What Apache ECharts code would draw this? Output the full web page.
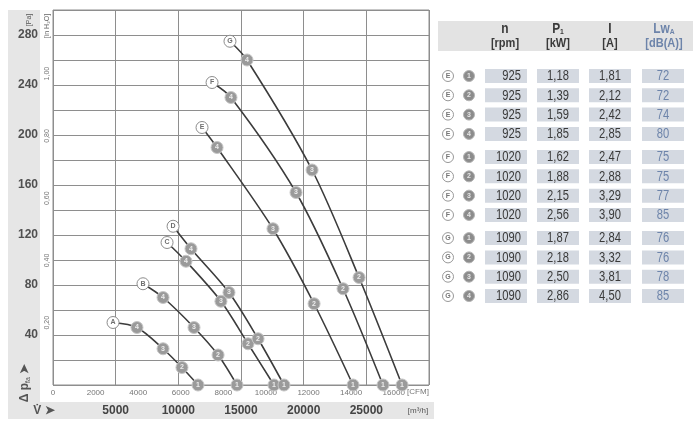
<!DOCTYPE html>
<html><head><meta charset="utf-8">
<script src="https://cdn.jsdelivr.net/npm/echarts@6/dist/echarts.min.js"></script>
<style>html,body{margin:0;padding:0;background:#fff}#c{width:700px;height:425px}</style>
</head><body><div id="c"></div>
<script>
// ---------- Chart data (flow in m3/h, pressure in Pa) ----------
const curveLetters = ['A','B','C','D','E','F','G'];
const pointLabels = ['4','3','2','1'];
const flowA = [4790, 6700, 8780, 10290, 11570];   const pressA = [50, 46, 29, 14, 0];
const flowB = [7180, 8780, 11250, 13170, 14680];  const pressB = [81, 70, 46, 24, 0];
const flowC = [9100, 10610, 13400, 15560, 17630]; const pressC = [114, 99, 67, 33, 0];
const flowD = [9580, 11010, 14040, 16360, 18430]; const pressD = [127, 109, 74, 37, 0];
const flowE = [11890, 13090, 17550, 20830, 23940]; const pressE = [206, 190, 125, 65, 0];
const flowF = [12690, 14200, 19390, 23140, 26330]; const pressF = [242, 230, 154, 77, 0];
const flowG = [14120, 15480, 20670, 24420, 27850]; const pressG = [275, 260, 172, 86, 0];
const flows = [flowA, flowB, flowC, flowD, flowE, flowF, flowG];
const presses = [pressA, pressB, pressC, pressD, pressE, pressF, pressG];

// axis tick settings
const flowTicksM3h = [5000, 10000, 15000, 20000, 25000];
const flowTicksCFM = [0, 2000, 4000, 6000, 8000, 10000, 12000, 14000, 16000];
const pressTicksPa = [40, 80, 120, 160, 200, 240, 280];
const pressTicksInH2O = [0.2, 0.4, 0.6, 0.8, 1.0];

// ---------- Table data ----------
const tableGroup = ['E','E','E','E','F','F','F','F','G','G','G','G'];
const tablePoint = ['1','2','3','4','1','2','3','4','1','2','3','4'];
const rpm = [925, 925, 925, 925, 1020, 1020, 1020, 1020, 1090, 1090, 1090, 1090];
const powerKW = [1.18, 1.39, 1.59, 1.85, 1.62, 1.88, 2.15, 2.56, 1.87, 2.18, 2.50, 2.86];
const currentA = [1.81, 2.12, 2.42, 2.85, 2.47, 2.88, 3.29, 3.90, 2.84, 3.32, 3.81, 4.50];
const soundLwA = [72, 72, 74, 80, 75, 75, 77, 85, 76, 76, 78, 85];

// ---------- Build ----------
const FONT = "'Liberation Sans Narrow','Liberation Sans',Arial,sans-serif";
const NARROW = 0.8;
const M3H_MAX = 30000, CFM_PER_M3H = 1 / 1.699;
const PA_MAX = 300, PA_PER_INH2O = 249.089;
const comma = (v, d) => v.toFixed(d).replace('.', ',');
const near = (arr, v, eps) => arr.some(t => Math.abs(t - v) < eps);

const curveSeries = curveLetters.map((letter, ci) => ({
  type: 'line', xAxisIndex: 0, yAxisIndex: 0, smooth: 0.3,
  symbol: 'circle', symbolSize: 12, showAllSymbol: true, z: 3,
  lineStyle: { color: '#3c3c3c', width: 1.6 },
  data: flows[ci].map((f, i) => ({
    value: [f, presses[ci][i]],
    itemStyle: i === 0
      ? { color: '#ffffff', borderColor: '#8c8c8c', borderWidth: 1 }
      : { color: '#9a9a9a', borderColor: '#c6c6c6', borderWidth: 1 },
    label: {
      show: true, position: 'inside',
      formatter: i === 0 ? letter : pointLabels[i - 1],
      color: i === 0 ? '#6e6e6e' : '#ececec',
      fontSize: 7, fontWeight: 'bold', fontFamily: FONT
    }
  }))
}));

// table layout (pixel columns inside table grid)
const COLX = { grp: 10, pt: 31, n: 68, p: 120, i: 172, lw: 225 };
const CELL_W = 42, CELL_H = 14;
const tableData = rpm.map((_, i) => [i + 0.2 * Math.floor(i / 4), i]);

function narrowText(x, y, txt, fill, size, align, weight) {
  return { type: 'text', x: x, y: y, scaleX: NARROW,
    style: { x: 0, y: 0, text: txt, fill: fill, fontSize: size, fontWeight: weight || 'normal',
      fontFamily: FONT, align: align, verticalAlign: 'middle' } };
}

function renderRow(params, api) {
  const pos = api.value(0), i = api.value(1);
  const cy = api.coord([0, pos])[1];
  const X = c => api.coord([c, pos])[0];
  const kids = [];
  kids.push({ type: 'circle', shape: { cx: X(COLX.grp), cy, r: 5.5 },
    style: { fill: '#fff', stroke: '#999', lineWidth: 1 } });
  kids.push({ type: 'text', style: { x: X(COLX.grp), y: cy, text: tableGroup[i], fill: '#777',
    fontSize: 7, fontWeight: 'bold', fontFamily: FONT, align: 'center', verticalAlign: 'middle' } });
  kids.push({ type: 'circle', shape: { cx: X(COLX.pt), cy, r: 5.5 },
    style: { fill: '#8c8c8c', stroke: '#b4b4b4', lineWidth: 1 } });
  kids.push({ type: 'text', style: { x: X(COLX.pt), y: cy, text: tablePoint[i], fill: '#e6e6e6',
    fontSize: 7, fontWeight: 'bold', fontFamily: FONT, align: 'center', verticalAlign: 'middle' } });
  const cells = [
    [COLX.n, String(rpm[i]), '#3a3a3a', 'right'],
    [COLX.p, comma(powerKW[i], 2), '#3a3a3a', 'center'],
    [COLX.i, comma(currentA[i], 2), '#3a3a3a', 'center'],
    [COLX.lw, String(soundLwA[i]), '#6d84aa', 'center']
  ];
  cells.forEach(([cx, txt, col, al]) => {
    const x0 = X(cx - CELL_W / 2);
    kids.push({ type: 'rect', shape: { x: x0, y: cy - CELL_H / 2, width: CELL_W, height: CELL_H },
      style: { fill: '#d4d9e1' } });
    kids.push(narrowText(al === 'right' ? x0 + CELL_W - 6 : X(cx), cy + 0.5, txt, col, 14, al));
  });
  return { type: 'group', children: kids };
}

const hdrY1 = 29, hdrY2 = 43;
const headerCols = [
  { x: 505, top: '{m|n}', bottom: '[rpm]', color: '#3a3a3a' },
  { x: 558, top: '{m|P}{s|1}', bottom: '[kW]', color: '#3a3a3a' },
  { x: 610, top: '{m|I}', bottom: '[A]', color: '#3a3a3a' },
  { x: 664, top: '{m|Lw}{s|A}', bottom: '[dB(A)]', color: '#6d84aa' }
];
const graphics = [
  { type: 'rect', z: -1, shape: { x: 8, y: 10, width: 32, height: 392 }, style: { fill: '#e6e6e6' } },
  { type: 'rect', z: -1, shape: { x: 8, y: 402, width: 426, height: 17 }, style: { fill: '#e6e6e6' } },
  { type: 'rect', z: -1, shape: { x: 438, y: 21, width: 255, height: 30 }, style: { fill: '#e3e3e3' } },
  { type: 'text', x: 29, y: 20, rotation: Math.PI / 2,
    style: { text: '[Pa]', fontSize: 7, fill: '#555', fontFamily: FONT, align: 'center', verticalAlign: 'middle' } },
  { type: 'text', x: 47, y: 26, rotation: Math.PI / 2,
    style: { text: '[in H\u2082O]', fontSize: 7, fill: '#666', fontFamily: FONT, align: 'center', verticalAlign: 'middle' } },
  { type: 'text', x: 25, y: 383, rotation: Math.PI / 2,
    style: { text: '{a|\u0394 p}{s|fa} {a|\u27A4}', fontFamily: FONT, align: 'center', verticalAlign: 'middle',
      rich: { a: { fontSize: 12, fontWeight: 'bold', fill: '#555', fontFamily: FONT },
              s: { fontSize: 7, fill: '#555', fontFamily: FONT, padding: [6, 0, 0, 0] } } } },
  { type: 'text', x: 44, y: 411,
    style: { text: 'V\u0307 \u27A4', fontSize: 12, fontWeight: 'bold', fill: '#555', fontFamily: FONT, align: 'center', verticalAlign: 'middle' } },
  { type: 'text', x: 418, y: 392,
    style: { text: '[CFM]', fontSize: 8, fill: '#777', fontFamily: FONT, align: 'center', verticalAlign: 'middle' } },
  { type: 'text', x: 418, y: 411,
    style: { text: '[m\u00B3/h]', fontSize: 8, fill: '#555', fontFamily: FONT, align: 'center', verticalAlign: 'middle' } }
];
headerCols.forEach(h => {
  graphics.push({ type: 'text', x: h.x, y: hdrY1, scaleX: 0.85, style: { x: 0, y: 0, text: h.top, align: 'center', verticalAlign: 'middle',
    rich: { m: { fontSize: 14, fontWeight: 'bold', fill: h.color, fontFamily: FONT },
            s: { fontSize: 8, fontWeight: 'bold', fill: h.color, fontFamily: FONT, padding: [6, 0, 0, 0] } } } });
  graphics.push({ type: 'text', x: h.x, y: hdrY2, scaleX: 0.85, style: { x: 0, y: 0, text: h.bottom, fontSize: 13, fontWeight: 'bold', fill: h.color,
    fontFamily: FONT, align: 'center', verticalAlign: 'middle' } });
});

const chart = echarts.init(document.getElementById('c'), null, { renderer: 'canvas' });
chart.setOption({
  animation: false,
  backgroundColor: '#ffffff',
  grid: [
    { left: 53, top: 10, width: 376, height: 375, show: true, borderColor: '#8e8e8e', borderWidth: 1, backgroundColor: 'transparent' },
    { left: 438, top: 76, width: 255, height: 220, show: false }
  ],
  xAxis: [
    { type: 'value', gridIndex: 0, position: 'bottom', min: 0, max: M3H_MAX, interval: 5000,
      axisLine: { show: false }, axisTick: { show: false },
      splitLine: { show: true, lineStyle: { color: '#8e8e8e', width: 1 } },
      axisLabel: { margin: 20, fontSize: 12, fontWeight: 'bold', color: '#444', fontFamily: FONT,
        formatter: v => near(flowTicksM3h, v, 1) ? String(v) : '' } },
    { type: 'value', gridIndex: 0, position: 'bottom', min: 0, max: M3H_MAX * CFM_PER_M3H, interval: 2000,
      axisLine: { show: false }, axisTick: { show: false }, splitLine: { show: false },
      axisLabel: { margin: 4, fontSize: 8, color: '#777', fontFamily: FONT, showMaxLabel: false,
        formatter: v => near(flowTicksCFM, v, 1) ? String(v) : '' } },
    { type: 'value', gridIndex: 1, min: 0, max: 255, show: false }
  ],
  yAxis: [
    { type: 'value', gridIndex: 0, position: 'left', min: 0, max: PA_MAX, interval: 20,
      axisLine: { show: false }, axisTick: { show: false },
      splitLine: { show: true, lineStyle: { color: '#8e8e8e', width: 1 } },
      axisLabel: { margin: 15, fontSize: 12, fontWeight: 'bold', color: '#505050', fontFamily: FONT,
        formatter: v => near(pressTicksPa, v, 0.5) ? String(v) : '' } },
    { type: 'value', gridIndex: 0, position: 'left', min: 0, max: PA_MAX / PA_PER_INH2O, interval: 0.2,
      axisLine: { show: false }, axisTick: { show: false }, splitLine: { show: false },
      axisLabel: { margin: 2, rotate: 90, fontSize: 7, color: '#777', fontFamily: FONT, showMaxLabel: false,
        formatter: v => near(pressTicksInH2O, v, 0.001) ? comma(v, 2) : '' } },
    { type: 'value', gridIndex: 1, min: 0, max: 11.4, inverse: true, show: false }
  ],
  graphic: graphics,
  series: curveSeries.concat([{
    type: 'custom', xAxisIndex: 2, yAxisIndex: 2, clip: false,
    renderItem: renderRow, data: tableData
  }])
});
</script></body></html>
